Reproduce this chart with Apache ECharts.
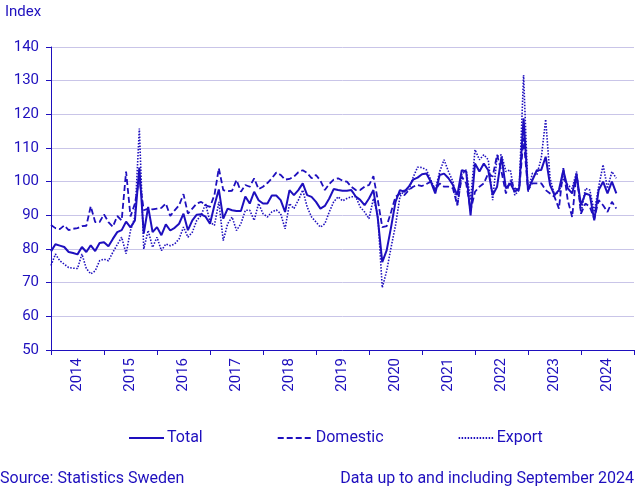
<!DOCTYPE html>
<html>
<head>
<meta charset="utf-8">
<script src="https://cdn.jsdelivr.net/npm/echarts@6/dist/echarts.min.js"></script>
<style>
html,body{margin:0;padding:0;background:#fff;}
#chart{width:643px;height:488px;}
</style>
</head>
<body>
<div id="chart"></div>
<script>
const years = ['2014','2015','2016','2017','2018','2019','2020','2021','2022','2023','2024'];
const monthsShown = 133; // Jan 2014 .. Jan 2025 (axis end)
const yTicks = {min: 50, max: 140, interval: 10};

const total = [
79.3,81.4,81.0,80.6,79.1,78.8,78.4,80.6,79.1,81.1,79.4,81.8,
82.0,80.8,83.0,85.0,85.6,88.1,86.4,88.5,104.2,84.6,92.5,85.0,
86.5,84.1,87.3,85.5,86.3,87.5,90.5,85.6,88.5,90.2,90.3,89.6,
87.5,93.0,97.7,89.0,92.0,91.5,91.3,91.3,95.6,93.5,97.0,94.5,
93.5,93.5,95.9,95.9,94.5,91.0,97.5,96.0,97.5,99.5,96.0,95.5,
94.0,92.0,92.8,95.0,97.8,97.5,97.3,97.3,97.5,95.6,94.6,93.0,
95.0,97.5,89.0,76.1,79.6,86.5,94.0,97.5,97.0,98.5,100.6,101.2,
102.2,102.4,100.0,96.5,102.0,102.4,101.0,99.0,96.0,103.4,103.0,90.0,
105.4,103.0,105.4,103.4,96.0,98.5,107.4,98.0,99.5,97.0,98.0,118.8,
97.5,100.5,103.4,103.5,107.4,99.0,96.0,97.5,103.4,98.0,96.5,102.0,
93.0,96.5,96.0,88.5,97.5,100.0,96.5,100.0,96.5
];
const domestic = [
87.1,86.2,85.9,87.0,85.6,86.0,86.2,86.8,86.9,92.7,88.0,88.0,
90.3,88.0,86.6,89.8,88.5,103.0,89.7,93.5,101.0,91.5,92.0,91.8,
92.0,92.2,93.5,89.8,91.5,93.0,96.3,90.5,92.0,93.5,94.0,93.0,
92.5,96.0,104.0,97.5,97.2,97.3,100.5,97.0,99.0,98.5,101.0,97.8,
98.5,99.6,101.0,102.7,102.0,100.6,100.8,101.5,102.8,103.4,102.6,101.0,
102.0,100.3,97.5,99.3,100.6,101.0,100.3,100.0,98.5,97.5,97.5,98.5,
99.0,101.6,94.5,86.5,86.8,91.0,95.5,96.5,96.0,97.5,98.5,99.0,
98.7,99.3,100.0,97.5,99.5,98.5,98.5,98.0,93.0,101.5,99.5,91.5,
97.0,98.5,99.5,102.5,101.5,108.0,103.0,96.5,100.5,98.0,97.5,113.0,
97.5,99.5,99.5,99.5,97.5,96.5,95.5,92.0,104.0,94.5,89.5,102.5,
90.5,93.5,92.5,89.0,94.5,93.0,91.0,94.0,92.0
];
const exportS = [
75.1,78.5,76.5,75.5,74.5,74.3,74.2,78.5,74.2,72.6,73.5,76.5,
77.0,76.5,79.0,81.3,83.5,78.6,85.5,89.5,115.8,80.0,85.5,80.5,
83.5,79.5,81.5,81.0,81.5,83.0,86.5,83.5,85.0,88.5,90.0,93.5,
88.0,87.0,94.0,82.5,87.5,89.5,85.5,87.5,91.5,91.5,88.5,93.5,
90.5,89.5,91.0,91.6,90.5,86.0,93.5,92.0,94.5,97.5,92.5,89.5,
88.0,86.5,87.5,91.0,94.0,95.5,94.3,95.0,95.5,95.5,92.5,91.0,
89.0,95.0,90.0,68.5,73.5,80.5,87.0,95.5,97.5,97.5,101.3,104.3,
104.2,103.5,100.5,97.5,103.0,106.5,103.0,100.0,93.0,102.0,103.5,94.5,
109.5,106.5,108.0,106.5,94.5,107.5,108.0,103.0,103.5,96.0,97.5,131.7,
97.0,102.5,102.0,107.0,118.5,101.0,96.0,97.0,101.0,99.0,98.0,103.0,
90.5,98.0,97.5,91.0,98.5,105.0,98.0,103.0,101.0
];

const categories = [];
for (let i = 0; i < monthsShown; i++) {
  const y = 2014 + Math.floor(i / 12);
  const m = (i % 12) + 1;
  categories.push(y + '-' + (m < 10 ? '0' + m : m));
}

const C = '#1e0fbe';
const GRID = '#c9c5e8';
const FONT = 'Roboto';

const chart = echarts.init(document.getElementById('chart'), null, {renderer: 'canvas'});
chart.setOption({
  animation: false,
  backgroundColor: '#fff',
  textStyle: {fontFamily: FONT, color: C},
  title: [
    {text: 'Index', left: 5, top: 5, padding: 0, textStyle: {fontFamily: FONT, fontSize: 15, fontWeight: 'normal', color: C}},
    {text: 'Source: Statistics Sweden', left: 0, top: 471, padding: 0, textStyle: {fontFamily: FONT, fontSize: 16, fontWeight: 'normal', color: C}},
    {text: 'Data up to and including September 2024', right: 9, top: 471, padding: 0, textStyle: {fontFamily: FONT, fontSize: 16, fontWeight: 'normal', color: C}}
  ],
  legend: {
    top: 425,
    left: 123,
    padding: 5,
    itemWidth: 35,
    itemHeight: 14,
    itemGap: 74,
    itemStyle: {opacity: 0},
    textStyle: {fontFamily: FONT, fontSize: 16, color: C, padding: [0,0,0,-2]},
    data: ['Total', 'Domestic', 'Export']
  },
  grid: {left: 51, right: 9, top: 47, bottom: 138, containLabel: false},
  xAxis: {
    type: 'category',
    data: categories,
    boundaryGap: false,
    axisLine: {show: true, lineStyle: {color: C, width: 1}},
    axisTick: {show: true, length: 5, lineStyle: {color: C}, interval: function (i) { return i % 12 === 0; }},
    axisLabel: {
      show: true,
      rotate: 90,
      margin: 8,
      fontFamily: FONT,
      fontSize: 15,
      color: C,
      interval: function (i) { return i % 12 === 6; },
      formatter: function (v) { return v.slice(0, 4); }
    },
    splitLine: {show: false}
  },
  yAxis: {
    type: 'value',
    min: yTicks.min,
    max: yTicks.max,
    interval: yTicks.interval,
    axisLine: {show: true, lineStyle: {color: C, width: 1}},
    axisTick: {show: true, length: 5, lineStyle: {color: C}},
    axisLabel: {fontFamily: FONT, fontSize: 15, color: C, margin: 12},
    splitLine: {show: true, lineStyle: {color: GRID, width: 1}}
  },
  series: [
    {name: 'Total', type: 'line', data: total, symbol: 'none', lineStyle: {color: C, width: 2, type: 'solid'}, itemStyle: {color: C}},
    {name: 'Domestic', type: 'line', data: domestic, symbol: 'none', lineStyle: {color: C, width: 1.8, type: [6, 3]}, itemStyle: {color: C}},
    {name: 'Export', type: 'line', data: exportS, symbol: 'none', lineStyle: {color: C, width: 1.6, type: [1.5, 1.5]}, itemStyle: {color: C}}
  ]
});
</script>
</body>
</html>
